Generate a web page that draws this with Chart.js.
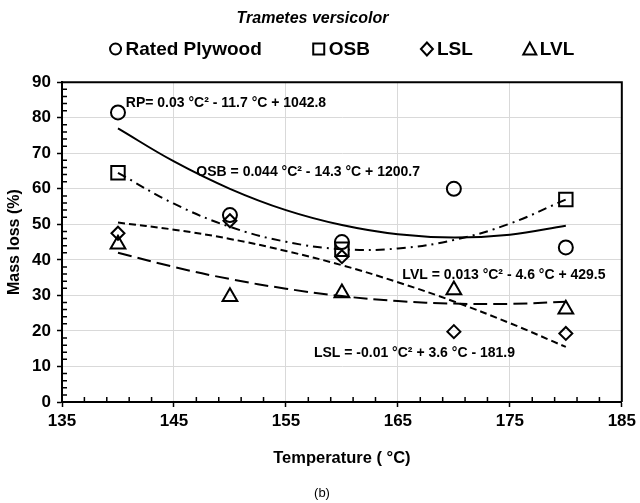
<!DOCTYPE html>
<html><head><meta charset="utf-8">
<script src="https://cdn.jsdelivr.net/npm/chart.js@4.4.1/dist/chart.umd.min.js"></script>
<style>html,body{margin:0;padding:0;background:#fff;} #wrap{width:640px;height:503px;}</style>
</head><body><div id="wrap"><canvas id="c" width="640" height="503"></canvas></div>
<script>
// ---- data ----
const temperatures = [140, 150, 160, 170, 180];
const rpLoss  = [81.5, 52.6, 45.0, 60.0, 43.5];
const osbTemps = [140, 160, 180];
const osbLoss = [64.5, 43.0, 57.0];
const lslLoss = [47.5, 51.0, 40.9, 19.8, 19.3];
const lvlLoss = [44.4, 29.6, 30.7, 31.5, 26.1];
// trend curves (at 5 degree steps)
const trendTemps = [140, 145, 150, 155, 160, 165, 170, 175, 180];
const rpTrend  = [77.0, 67.7, 60.0, 54.0, 49.8, 47.2, 46.3, 47.1, 49.6];
const osbTrend = [64.5, 55.8, 49.3, 45.1, 43.0, 43.2, 45.6, 50.2, 57.0];
const lslTrend = [50.5, 48.5, 45.9, 42.5, 38.5, 33.7, 28.3, 22.2, 15.5];
const lvlTrend = [42.0, 38.0, 34.6, 31.9, 29.8, 28.4, 27.7, 27.6, 28.2];
const seriesNames = ['Rated Plywood', 'OSB', 'LSL', 'LVL'];
const equations = [
  'RP= 0.03 \u00B0C\u00B2 - 11.7 \u00B0C + 1042.8',
  'OSB = 0.044 \u00B0C\u00B2 - 14.3 \u00B0C + 1200.7',
  'LVL = 0.013 \u00B0C\u00B2 - 4.6 \u00B0C + 429.5',
  'LSL = -0.01 \u00B0C\u00B2 + 3.6 \u00B0C - 181.9'
];
const equationAnchors = [[140.7, 84.1], [147.0, 64.7], [165.4, 35.7], [157.5, 13.8]];
const xTicks = [135, 145, 155, 165, 175, 185];
const yTicks = [0, 10, 20, 30, 40, 50, 60, 70, 80, 90];

const FONT = "'Liberation Sans', Arial, sans-serif";
const pts = (xs, ys) => xs.map((x, i) => ({x, y: ys[i]}));

function markerDs(label, xs, ys, style, radius) {
  return {type: 'scatter', label, data: pts(xs, ys), pointStyle: style, pointRadius: radius,
    pointHoverRadius: radius, borderColor: '#000', backgroundColor: 'rgba(0,0,0,0)',
    pointBorderWidth: 2, showLine: false, order: 1};
}
function trendDs(label, ys, dash) {
  return {type: 'line', label, data: pts(trendTemps, ys), borderColor: '#000', borderWidth: 2,
    borderDash: dash, pointRadius: 0, tension: 0.4, fill: false, order: 2};
}

const overlay = {
  id: 'overlay',
  afterDraw(chart) {
    const {ctx, chartArea: a, scales: {x, y}} = chart;
    ctx.save();
    // top & right frame
    ctx.strokeStyle = '#000'; ctx.lineWidth = 2;
    ctx.beginPath();
    ctx.moveTo(a.left, a.top); ctx.lineTo(a.right, a.top); ctx.lineTo(a.right, a.bottom);
    ctx.stroke();
    // minor inward ticks
    ctx.lineWidth = 1.5;
    ctx.beginPath();
    for (let v = 2; v < 90; v += 2) {
      if (v % 10 === 0) continue;
      const py = y.getPixelForValue(v);
      ctx.moveTo(a.left, py); ctx.lineTo(a.left + 5, py);
    }
    for (let t = 137; t < 185; t += 2) {
      if ((t - 135) % 10 === 0) continue;
      const px = x.getPixelForValue(t);
      ctx.moveTo(px, a.bottom); ctx.lineTo(px, a.bottom - 5);
    }
    ctx.stroke();
    // equations
    ctx.fillStyle = '#000';
    ctx.font = 'bold 14px ' + FONT;
    ctx.textAlign = 'left'; ctx.textBaseline = 'middle';
    equations.forEach((txt, i) => {
      ctx.fillText(txt, x.getPixelForValue(equationAnchors[i][0]), y.getPixelForValue(equationAnchors[i][1]));
    });
    // legend
    ctx.font = 'bold 19px ' + FONT;
    const sym = 12, gapSym = 4, gapItem = 51;
    const widths = seriesNames.map(n => sym + gapSym + ctx.measureText(n).width);
    const total = widths.reduce((s, w) => s + w, 0) + gapItem * (seriesNames.length - 1);
    let lx = (a.left + a.right) / 2 - total / 2;
    const ly = 49;
    ctx.lineWidth = 2;
    seriesNames.forEach((n, i) => {
      const cx = lx + sym / 2;
      ctx.beginPath();
      if (i === 0) ctx.arc(cx, ly, 5.5, 0, Math.PI * 2);
      else if (i === 1) ctx.rect(cx - 5.5, ly - 5.5, 11, 11);
      else if (i === 2) { ctx.moveTo(cx, ly - 6.5); ctx.lineTo(cx + 6, ly); ctx.lineTo(cx, ly + 6.5); ctx.lineTo(cx - 6, ly); ctx.closePath(); }
      else { ctx.moveTo(cx, ly - 6.5); ctx.lineTo(cx + 6.5, ly + 5.5); ctx.lineTo(cx - 6.5, ly + 5.5); ctx.closePath(); }
      ctx.stroke();
      ctx.textAlign = 'left';
      ctx.fillText(n, lx + sym + gapSym, ly + 1);
      lx += widths[i] + gapItem;
    });
    // caption
    ctx.font = '13px ' + FONT;
    ctx.textAlign = 'center';
    ctx.fillText('(b)', 322, 493);
    ctx.restore();
  }
};

new Chart(document.getElementById('c'), {
  data: {
    datasets: [
      markerDs(seriesNames[0], temperatures, rpLoss, 'circle', 7),
      markerDs(seriesNames[1], osbTemps, osbLoss, 'rect', 9.5),
      markerDs(seriesNames[2], temperatures, lslLoss, 'rectRot', 6.5),
      markerDs(seriesNames[3], temperatures, lvlLoss, 'triangle', 8.5),
      trendDs('RP trend', rpTrend, []),
      trendDs('OSB trend', osbTrend, [9, 5, 2, 5]),
      trendDs('LSL trend', lslTrend, [7, 4]),
      trendDs('LVL trend', lvlTrend, [14, 6])
    ]
  },
  options: {
    responsive: false, animation: false, devicePixelRatio: 1,
    layout: {padding: {top: 0, left: 0, right: 15, bottom: 0}},
    plugins: {
      legend: {display: false}, tooltip: {enabled: false},
      title: {display: true, text: 'Trametes versicolor', color: '#000',
        font: {family: FONT, size: 16, weight: 'bold', style: 'italic'},
        padding: {top: 9, bottom: 54}}
    },
    scales: {
      x: {type: 'linear', min: 135, max: 185,
        afterBuildTicks: s => { s.ticks = xTicks.map(v => ({value: v})); },
        afterFit: s => { s.height = 101; },
        ticks: {color: '#000', font: {family: FONT, size: 17, weight: 'bold'}, padding: 4, maxRotation: 0},
        grid: {color: '#d9d9d9', tickColor: '#000', tickLength: 5, lineWidth: 1, tickWidth: 1.5},
        border: {color: '#000', width: 2},
        title: {display: true, text: 'Temperature ( \u00B0C)', color: '#000',
          font: {family: FONT, size: 16.5, weight: 'bold'}, padding: {top: 0, bottom: 35}}
      },
      y: {type: 'linear', min: 0, max: 90,
        afterBuildTicks: s => { s.ticks = yTicks.map(v => ({value: v})); },
        afterFit: s => { s.width = 62; },
        ticks: {color: '#000', font: {family: FONT, size: 17, weight: 'bold'}, padding: 6},
        grid: {color: '#d9d9d9', tickColor: '#000', tickLength: 5, lineWidth: 1, tickWidth: 1.5},
        border: {color: '#000', width: 2},
        title: {display: true, text: 'Mass loss (%)', color: '#000',
          font: {family: FONT, size: 16, weight: 'bold'}, padding: {top: 5, bottom: 0}}
      }
    }
  },
  plugins: [overlay]
});
</script></body></html>
